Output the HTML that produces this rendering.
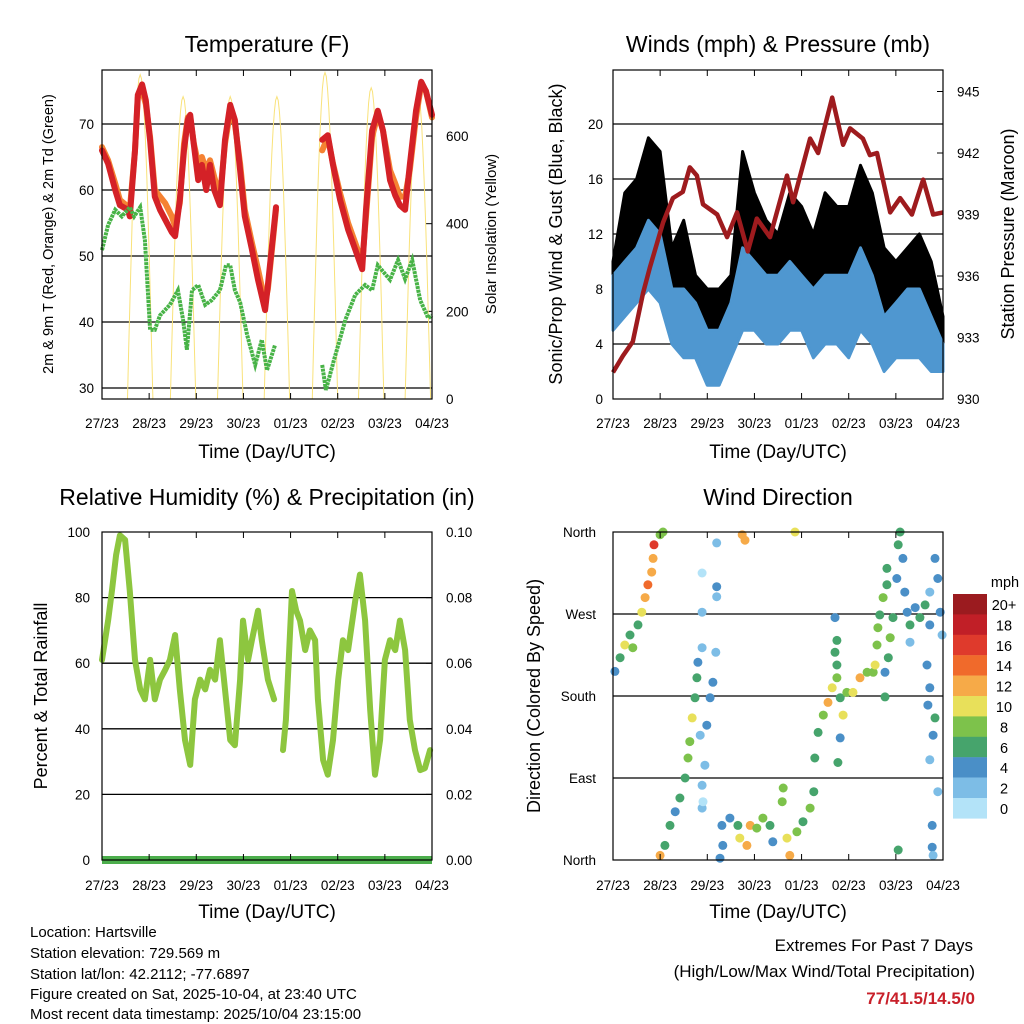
<!DOCTYPE html>
<html><head><meta charset="utf-8"><style>
html,body{margin:0;padding:0;background:#fff;}
svg{display:block;font-family:"Liberation Sans",sans-serif;}
</style></head><body>
<svg id="c" width="1024" height="1024" viewBox="0 0 1024 1024" xmlns="http://www.w3.org/2000/svg">
<rect width="1024" height="1024" fill="#fff"/>
<g id="g"></g>
<text x="30" y="937" font-size="15">Location: Hartsville</text>
<text x="30" y="958" font-size="15">Station elevation: 729.569 m</text>
<text x="30" y="979" font-size="15">Station lat/lon: 42.2112; -77.6897</text>
<text x="30" y="999" font-size="15">Figure created on Sat, 2025-10-04, at 23:40 UTC</text>
<text x="30" y="1019" font-size="15">Most recent data timestamp: 2025/10/04 23:15:00</text>
<text x="973" y="951" font-size="17" text-anchor="end">Extremes For Past 7 Days</text>
<text x="975" y="977" font-size="17" text-anchor="end">(High/Low/Max Wind/Total Precipitation)</text>
<text x="975" y="1004" font-size="17" font-weight="bold" fill="#c8202a" text-anchor="end">77/41.5/14.5/0</text>
</svg>
<script>
// ---- data ----
const dayLabels = ["27/23","28/23","29/23","30/23","01/23","02/23","03/23","04/23"];
const tempTicks = [30,40,50,60,70];
const solarTicks = [0,200,400,600];
const windTicks = [0,4,8,12,16,20];
const presTicks = [930,933,936,939,942,945];
const rhTicks = [0,20,40,60,80,100];
const precTicks = ["0.00","0.02","0.04","0.06","0.08","0.10"];
const dirTicks = ["North","East","South","West","North"];
const speedLabels = ["20+","18","16","14","12","10","8","6","4","2","0"];

const tempT = [0,.13,.28,.38,.55,.59,.70,.76,.85,.93,1.02,1.12,1.23,1.34,1.48,1.55,1.65,1.74,1.82,1.87,1.95,2.04,2.12,2.21,2.29,2.38,2.5,2.61,2.72,2.82,2.93,3.03,3.18,3.31,3.46,3.52,3.69,null,4.67,4.79,4.9,5.05,5.22,5.37,5.52,5.6,5.73,5.85,5.96,6.11,6.22,6.32,6.43,6.53,6.66,6.77,6.87,7];
const temp2m = [66,64,60,57.7,57,56,66,74.4,76,73.6,67.5,59,57,55.5,53.6,53,58.5,66,70.6,71.4,66.8,61.5,63.8,60,63.8,60,57.7,67.6,72.9,70.6,63,56,51,46.4,41.8,45.6,57.4,null,67.6,68.3,63.8,58.5,54,51,48,57,69,72,69,61.5,59.2,57.7,57,63.8,72,76.4,75,71.4];
const temp9m = [66.5,64.5,61,58.5,57.5,57,66,74,75,73,68,60,59,58,56,54.5,58,67,71,71,67,64,65,63,64.5,62,59,67,72,70,64,57,52,48,43,45,57,null,66,68,64,59.5,55,52,49,56,68,71.5,69,63,61,59,59,63,71,76,75,71];
const dewT = [0,.13,.28,.42,.59,.68,.81,.91,1.02,1.12,1.23,1.44,1.61,1.72,1.8,1.91,2.04,2.19,2.33,2.5,2.63,2.72,2.82,2.93,3.08,3.25,3.39,3.5,3.67,null,4.67,4.75,4.92,5.16,5.37,5.58,5.73,5.85,6.11,6.28,6.43,6.58,6.75,6.92,7];
const dew2m = [50.9,54.7,57,56,57.4,56,57.4,52.4,38.8,38.8,41,42.6,44.8,40.3,35.8,44.8,45.6,42.6,43.3,44.8,48.6,48.6,44.8,43,38,33.5,37.3,32.7,36.5,null,33.5,29.7,34.2,40.3,44.1,45.6,44.8,48.6,46.4,49.4,46.5,49.4,43.3,40.6,41];
const solarPeakT = [.81,1.72,2.72,3.71,4.73,5.71,6.7];
const solarPeakV = [740,690,690,690,745,710,700];

const bandT = [0,.25,.5,.75,1,1.25,1.5,1.75,2,2.25,2.5,2.75,3,3.25,3.5,3.75,4,4.25,4.5,4.75,5,5.25,5.5,5.75,6,6.25,6.5,6.75,7];
const windLo = [5,6,7,8,7,4,3,3,1,1,3,5,5,4,4,5,5,3,4,4,3,5,4,2,3,3,3,2,2];
const windHi = [9,10,11,13,12,8,8,7,5,5,7,11,10,9,9,10,9,8,9,9,9,11,9,6,7,8,8,6,4];
const gustLo = [6,9,10,12,11,7,6,5,3,2,5,9,9,7,7,9,8,7,8,7,7,8,7,6,6,6,6,5,4];
const gustHi = [10,15,16,19,18,11,13,9,8,8,9,18,15,13,12,15,14,12,15,14,14,17,15,11,10,11,12,10,6];
const presT = [0,.21,.42,.64,.78,1.06,1.27,1.48,1.63,1.78,1.91,2.21,2.42,2.63,2.86,3.05,3.33,3.69,3.82,4.18,4.35,4.65,4.88,5.03,5.3,5.45,5.6,5.88,6.09,6.34,6.58,6.79,7];
const presV = [931.3,932.1,932.8,935.2,936.4,938.6,939.8,940.1,941.3,940.9,939.5,939.0,937.9,939.1,937.2,938.8,937.9,940.9,939.6,942.7,942.0,944.7,942.4,943.2,942.7,941.9,942.0,939.1,939.8,939.0,940.7,939.0,939.1];

const rhT = [0,.13,.21,.3,.38,.49,.59,.7,.81,.91,1.02,1.12,1.23,1.34,1.44,1.55,1.65,1.76,1.87,1.97,2.08,2.19,2.29,2.4,2.5,2.61,2.72,2.82,2.93,2.99,3.1,3.18,3.31,3.39,3.52,3.65,null,3.84,3.9,4.03,4.12,4.2,4.31,4.41,4.52,4.58,4.69,4.79,4.9,5.01,5.11,5.22,5.37,5.47,5.58,5.69,5.79,5.9,6.0,6.11,6.22,6.32,6.43,6.53,6.64,6.75,6.85,6.96];
const rhV = [61,73,82,93,99,97.6,82,61,52,49,61,49,55,58,61,68.6,52,36.6,29,49,55,52,58,55,67,52,36.6,35,55,73,61,67,76,67,55,49,null,33.5,42.7,82,76,73,64,70,67,49,30.5,26,36.6,55,67,64,79,87,73,45.7,26,36.6,61,67,64,73,64,42.7,33.5,27.4,28,33.5];
const precT = [0,7];
const precV = [0,0];

const dirT = [.04,.15,.25,.42,.36,.53,.61,.68,.74,.82,.85,.87,1.0,1.06,1.0,1.1,1.21,1.32,1.42,1.53,1.59,1.63,1.68,1.74,1.78,1.8,1.89,1.85,1.89,1.89,1.89,1.89,1.99,2.06,2.12,2.18,2.2,2.2,2.2,1.95,1.91,2.31,2.33,2.27,2.48,2.65,2.69,2.84,2.91,3.05,3.18,3.33,3.39,3.59,3.61,3.69,3.75,3.9,4.03,4.18,4.26,2.74,2.8,3.86,4.28,4.35,4.46,4.56,4.65,4.75,4.82,4.82,4.77,4.88,4.96,5.09,5.24,5.39,5.52,5.56,5.6,5.62,5.66,5.73,5.81,5.81,4.71,4.75,4.75,5.77,5.77,5.84,5.88,5.94,6.02,6.05,6.09,6.15,6.19,6.24,6.3,6.3,6.41,6.51,6.62,6.72,6.72,6.83,6.89,6.94,6.98,6.66,6.72,6.68,6.83,6.79,6.72,6.89,6.77,6.77,6.79,6.05,4.71];
const dirV = [207,222,236,233,247,258,272,288,302,316,331,346,357,360,5,16,38,53,68,90,112,130,156,178,200,217,233,137,82,57,272,315,148,178,195,228,300,348,289,104,64,38,16,2,46,38,24,16,38,35,46,38,20,64,79,24,5,31,42,57,75,357,351,360,112,140,159,173,189,200,178,134,107,159,184,184,200,206,206,214,236,255,269,288,302,320,266,241,214,206,179,222,244,266,309,346,360,331,294,272,258,239,277,266,280,258,294,331,309,272,247,214,189,170,156,137,110,75,38,14,5,11,228];
const dirSpd = [4,7,10,8,7,7,10,12,14,12,12,16,8,8,12,6,6,4,6,6,8,8,10,6,6,4,2,2,2,2,2,0,4,4,4,2,4,2,2,2,0,4,4,4,4,6,10,12,12,8,8,6,4,8,8,10,12,8,6,8,6,12,12,10,6,6,8,12,10,8,6,4,6,10,8,10,12,8,8,10,8,8,6,8,6,6,4,6,6,4,6,6,8,6,4,6,6,4,4,4,6,2,4,6,6,4,2,4,4,4,2,4,4,4,6,4,2,2,4,4,2,6,6];
const speedColors = ["#b3e3f8","#7dbde6","#4a8fc7","#46a46c","#7dc24b","#e8e05a","#f6aa48","#f06a2b","#df3a2c","#c11f27","#9b1b1f"];

// ---- helpers ----
const NS="http://www.w3.org/2000/svg";
const root=document.getElementById('g');
function el(tag,attrs,parent){const e=document.createElementNS(NS,tag);for(const k in attrs)e.setAttribute(k,attrs[k]);(parent||root).appendChild(e);return e;}
function txt(s,x,y,size,anchor,parent,extra){const e=el('text',Object.assign({x:x,y:y,'font-size':size,'text-anchor':anchor||'middle'},extra||{}),parent);e.textContent=s;return e;}
function pathFrom(ts,vs,sx,sy){let d='',pen=false;for(let i=0;i<ts.length;i++){if(ts[i]===null||vs[i]===null){pen=false;continue;}d+=(pen?'L':'M')+sx(ts[i]).toFixed(1)+','+sy(vs[i]).toFixed(1);pen=true;}return d;}
function bandFrom(ts,lo,hi,sx,sy){let d='M';for(let i=0;i<ts.length;i++)d+=(i?'L':'')+sx(ts[i]).toFixed(1)+','+sy(hi[i]).toFixed(1);for(let i=ts.length-1;i>=0;i--)d+='L'+sx(ts[i]).toFixed(1)+','+sy(lo[i]).toFixed(1);return d+'Z';}

function frame(x0,x1,y0,y1,name){
  const g=el('g',{});
  
  
  return g;
}
function xAxis(g,x0,x1,y0,y1,labelY,titleY){
  const sx=t=>x0+(x1-x0)*t/7;
  for(let i=0;i<dayLabels.length;i++){
    const x=sx(i);
    el('line',{x1:x,y1:y0,x2:x,y2:y0+6,stroke:'#000','stroke-width':1},g);
    el('line',{x1:x,y1:y1,x2:x,y2:y1-6,stroke:'#000','stroke-width':1},g);
    const t=txt(dayLabels[i],x,labelY,13.5,'middle',g);
    
    
  }
  const tt=txt('Time (Day/UTC)',(x0+x1)/2,titleY,19,'middle',g);
  
  
  return sx;
}
function box(g,x0,x1,y0,y1){el('rect',{x:x0,y:y0,width:x1-x0,height:y1-y0,fill:'none',stroke:'#000','stroke-width':1.2},g);}

// ===== Panel 1: Temperature =====
(function(){
  const x0=102,x1=432,y0=70,y1=399;
  const g=frame(x0,x1,y0,y1,'temperature-panel');
  const sx=t=>x0+(x1-x0)*t/7;
  const sy=v=>388-(v-30)*6.6;
  const sr=v=>399-v*0.4383;
  const tl=txt('Temperature (F)',267,52,23,'middle',g);
  
  
  tempTicks.forEach(v=>{
    el('line',{x1:x0,y1:sy(v),x2:x1,y2:sy(v),stroke:'#000','stroke-width':1.3},g);
    const t=txt(String(v),x0-8,sy(v)+5,13.5,'end',g);
    
    
  });
  solarTicks.forEach(v=>{
    el('line',{x1:x1,y1:sr(v),x2:x1-6,y2:sr(v),stroke:'#000'},g);
    const t=txt(String(v),x1+14,sr(v)+5,13.5,'start',g);
    
    
  });
  let d='';
  for(let k=0;k<solarPeakT.length;k++){
    const c=solarPeakT[k],w=0.27;
    for(let j=0;j<=20;j++){const t=c-w+2*w*j/20;if(t<0||t>7)continue;const v=solarPeakV[k]*Math.sin(Math.PI*j/20);d+=(j&&d?'L':'M')+sx(t).toFixed(1)+','+sr(v).toFixed(1);}
  }
  const s=el('path',{d:d,fill:'none',stroke:'#f9e27a','stroke-width':1},g);
  
  
  const o=el('path',{d:pathFrom(tempT,temp9m,sx,sy),fill:'none',stroke:'#f58233','stroke-width':6,'stroke-linejoin':'round','stroke-linecap':'round'},g);
  
  
  const r=el('path',{d:pathFrom(tempT,temp2m,sx,sy),fill:'none',stroke:'#d42127','stroke-width':6,'stroke-linejoin':'round','stroke-linecap':'round'},g);
  
  
  const gr=el('path',{d:pathFrom(dewT,dew2m,sx,sy),fill:'none',stroke:'#48b347','stroke-width':4,'stroke-dasharray':'3 0.8'},g);
  
  
  box(g,x0,x1,y0,y1);
  xAxis(g,x0,x1,y0,y1,428,458);
  const yl=txt('2m & 9m T (Red, Orange) & 2m Td (Green)',0,0,14.5,'middle',g,{transform:'translate(53,234) rotate(-90)'});
  
  
  const yr=txt('Solar Insolation (Yellow)',0,0,15,'middle',g,{transform:'translate(496,234) rotate(-90)'});
  
  
})();

// ===== Panel 2: Winds & Pressure =====
(function(){
  const x0=613,x1=943,y0=70,y1=399;
  const g=frame(x0,x1,y0,y1,'winds-panel');
  const sx=t=>x0+(x1-x0)*t/7;
  const sy=v=>399-v*13.75;
  const sp=p=>399-(p-930)*20.5;
  const tl=txt('Winds (mph) & Pressure (mb)',778,52,23,'middle',g);
  
  
  windTicks.forEach(v=>{
    if(v>0)el('line',{x1:x0,y1:sy(v),x2:x1,y2:sy(v),stroke:'#000','stroke-width':1.3},g);
    const t=txt(String(v),x0-10,sy(v)+5,13.5,'end',g);
    
    
  });
  presTicks.forEach(v=>{
    el('line',{x1:x1,y1:sp(v),x2:x1-6,y2:sp(v),stroke:'#000'},g);
    const t=txt(String(v),x1+14,sp(v)+5,13.5,'start',g);
    
    
  });
  const gb=el('path',{d:bandFrom(bandT,gustLo,gustHi,sx,sy),fill:'#000',stroke:'#000','stroke-width':3,'stroke-linejoin':'round'},g);
  
  
  const wb=el('path',{d:bandFrom(bandT,windLo,windHi,sx,sy),fill:'#4f97d0',stroke:'#4f97d0','stroke-width':3,'stroke-linejoin':'round'},g);
  
  
  const pl=el('path',{d:pathFrom(presT,presV,sx,sp),fill:'none',stroke:'#9e1b1e','stroke-width':4.5,'stroke-linejoin':'round'},g);
  
  
  box(g,x0,x1,y0,y1);
  xAxis(g,x0,x1,y0,y1,428,458);
  const yl=txt('Sonic/Prop Wind & Gust (Blue, Black)',0,0,18,'middle',g,{transform:'translate(562,234) rotate(-90)'});
  
  
  const yr=txt('Station Pressure (Maroon)',0,0,18,'middle',g,{transform:'translate(1014,234) rotate(-90)'});
  
  
})();

// ===== Panel 3: RH & precip =====
(function(){
  const x0=102,x1=432,y0=532,y1=860;
  const g=frame(x0,x1,y0,y1,'humidity-panel');
  const sx=t=>x0+(x1-x0)*t/7;
  const sy=v=>860-v*3.28;
  const spc=p=>860-p*3280;
  const tl=txt('Relative Humidity (%) & Precipitation (in)',267,505,23,'middle',g);
  
  
  rhTicks.forEach((v,i)=>{
    if(v>0&&v<100)el('line',{x1:x0,y1:sy(v),x2:x1,y2:sy(v),stroke:'#000','stroke-width':1.3},g);
    const t=txt(String(v),x0-12,sy(v)+5,13.5,'end',g);
    
    
    el('line',{x1:x1,y1:sy(v),x2:x1-6,y2:sy(v),stroke:'#000'},g);
    const t2=txt(precTicks[i],x1+14,sy(v)+5,13.5,'start',g);
    
    
  });
  const rl=el('path',{d:pathFrom(rhT,rhV,sx,sy),fill:'none',stroke:'#8dc63f','stroke-width':6,'stroke-linejoin':'round','stroke-linecap':'round'},g);
  
  
  const pl=el('path',{d:pathFrom(precT,precV,sx,spc),fill:'none',stroke:'#4cae4c','stroke-width':8},g);
  
  
  box(g,x0,x1,y0,y1);
  xAxis(g,x0,x1,y0,y1,890,918);
  const yl=txt('Percent & Total Rainfall',0,0,18,'middle',g,{transform:'translate(47,696) rotate(-90)'});
  
  
})();

// ===== Panel 4: Wind Direction =====
(function(){
  const x0=613,x1=943,y0=532,y1=860;
  const g=frame(x0,x1,y0,y1,'wind-direction-panel');
  const sx=t=>x0+(x1-x0)*t/7;
  const sy=d=>860-d*328/360;
  const tl=txt('Wind Direction',778,505,23,'middle',g);
  
  
  dirTicks.forEach((n,i)=>{
    const y=sy(i*90);
    if(i>0&&i<4)el('line',{x1:x0,y1:y,x2:x1,y2:y,stroke:'#000','stroke-width':1.3},g);
    const t=txt(n,x0-17,y+5,13.5,'end',g);
    
    
  });
  for(let i=0;i<dirT.length;i++){
    const k=Math.min(10,Math.floor(dirSpd[i]/2));
    const c=el('circle',{cx:sx(dirT[i]).toFixed(1),cy:sy(dirV[i]).toFixed(1),r:4.5,fill:speedColors[k]},g);
    
    
  }
  box(g,x0,x1,y0,y1);
  xAxis(g,x0,x1,y0,y1,890,918);
  const yl=txt('Direction (Colored By Speed)',0,0,18,'middle',g,{transform:'translate(540,696) rotate(-90)'});
  
  
  const cb=el('g',{},g);
  
  
  const mt=txt('mph',1005,587,14.5,'middle',cb);
  
  
  for(let i=0;i<speedLabels.length;i++){
    const y=594+i*20.4;
    const r=el('rect',{x:953,y:y,width:34,height:20.6,fill:speedColors[10-i]},cb);
    
    
    const t=txt(speedLabels[i],1004,y+16,14.5,'middle',cb);
    
    
  }
})();
</script>
</body></html>
